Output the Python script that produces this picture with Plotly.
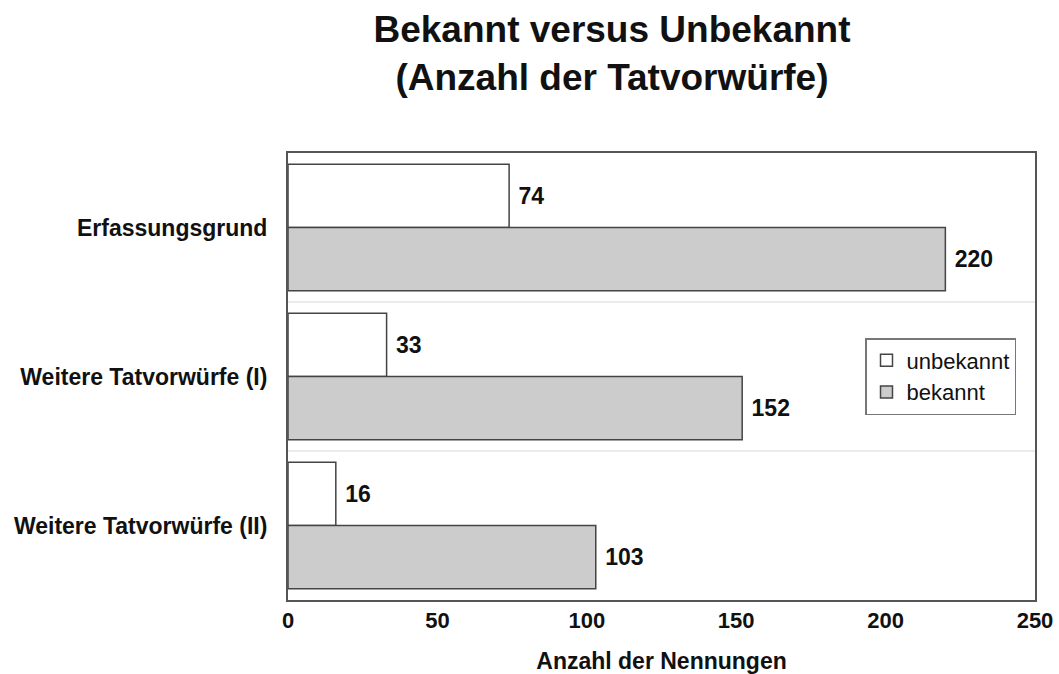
import plotly.graph_objects as go

categories = ["Erfassungsgrund", "Weitere Tatvorwürfe (I)", "Weitere Tatvorwürfe (II)"]
unbekannt = [74, 33, 16]
bekannt = [220, 152, 103]
x_ticks = [0, 50, 100, 150, 200, 250]

FONT = "Liberation Sans, Arial, sans-serif"
BOLD = dict(family=FONT, color="#111111", weight="bold")

fig = go.Figure()
fig.add_trace(go.Bar(
    name="unbekannt", y=categories, x=unbekannt, orientation="h",
    marker=dict(color="#ffffff", line=dict(color="#444444", width=1.5)),
    text=unbekannt, texttemplate="\u00a0%{x}", textposition="outside",
    textfont=dict(size=23, **BOLD),
    cliponaxis=False,
))
fig.add_trace(go.Bar(
    name="bekannt", y=categories, x=bekannt, orientation="h",
    marker=dict(color="#cccccc", line=dict(color="#444444", width=1.5)),
    text=bekannt, texttemplate="\u00a0%{x}", textposition="outside",
    textfont=dict(size=23, **BOLD),
    cliponaxis=False,
))

# faint separators between category bands
for b in [0.5, 1.5]:
    fig.add_shape(type="line", xref="paper", x0=0, x1=1, yref="y", y0=b, y1=b,
                  line=dict(color="#e4e4e4", width=1.5), layer="below")

fig.update_layout(
    width=1059, height=674,
    paper_bgcolor="white", plot_bgcolor="white",
    margin=dict(l=288, r=24, t=153, b=74),
    barmode="group", bargap=0.15, bargroupgap=0,
    font=dict(family=FONT, color="#111111"),
    title=dict(
        text="Bekannt versus Unbekannt<br>(Anzahl der Tatvorwürfe)",
        font=dict(size=37, **BOLD),
        x=612 / 1059, xanchor="center", xref="container",
        y=1 - 42 / 674, yanchor="middle", yref="container",
    ),
    legend=dict(
        x=(865 - 288) / 747, xanchor="left",
        y=(600 - 338) / 447, yanchor="top",
        bordercolor="#777777", borderwidth=1.5, bgcolor="white",
        font=dict(family=FONT, size=22, color="#111111"),
        traceorder="normal", tracegroupgap=0,
    ),
    showlegend=True,
)

fig.update_xaxes(
    range=[0, 250], tickvals=x_ticks, ticktext=[str(v) for v in x_ticks],
    showgrid=False, zeroline=False,
    showline=True, linecolor="#555555", linewidth=2, mirror=True,
    ticks="", tickfont=dict(size=22, **BOLD),
    title=dict(text="Anzahl der Nennungen",
               font=dict(size=23, **BOLD), standoff=20),
    automargin=False,
)
fig.update_yaxes(
    autorange="reversed", showgrid=False, zeroline=False,
    showline=True, linecolor="#555555", linewidth=2, mirror=True,
    ticks="", ticklabelstandoff=14,
    tickfont=dict(size=23, **BOLD),
    automargin=False,
)

fig.write_html("out.html", post_script="document.body.style.margin='0';",
               config={"displayModeBar": False})
